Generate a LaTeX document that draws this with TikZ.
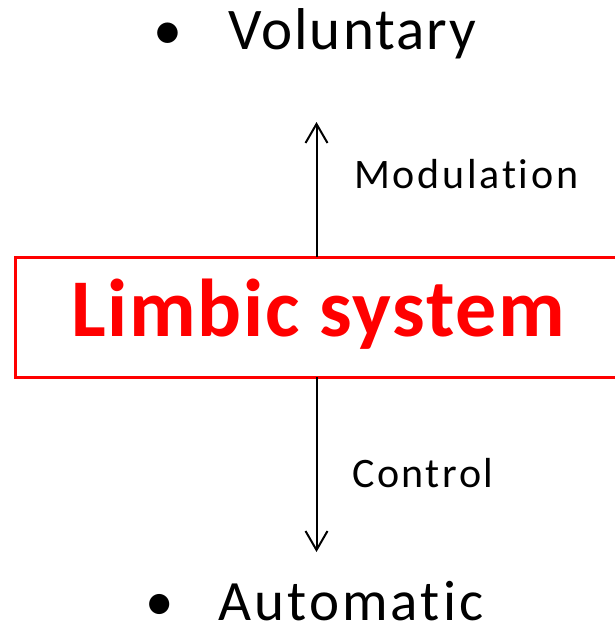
\documentclass[tikz,border=0pt]{standalone}
\usepackage{fontspec}
\setmainfont{Carlito}[Ligatures=NoCommon]
\usetikzlibrary{arrows.meta}
\begin{document}
\begin{tikzpicture}[x=1pt,y=-1pt,
  big/.style={anchor=base west,inner sep=0pt,text depth=0pt,font=\fontsize{58}{60}\selectfont},
  small/.style={anchor=base west,inner sep=0pt,font=\fontsize{42}{44}\selectfont\addfontfeatures{LetterSpace=6.5}},
  arr/.style={line width=2pt,-{Straight Barb[length=19pt,width=22pt,line width=2pt]}}]
\useasboundingbox (0,0) rectangle (615,626);
\node[big] (vb) at (153,50) {•};
\node[big,font=\fontsize{59}{60}\selectfont\addfontfeatures{LetterSpace=3.5}] (vol) at (228,50) {Voluntary};
\node[big,font=\fontsize{57}{60}\selectfont] (ab) at (145,620) {•};
\node[big,font=\fontsize{57}{60}\selectfont\addfontfeatures{LetterSpace=5.5}] (aut) at (218,620) {Automatic};
\draw[red,line width=3pt] (630,257) -- (15,257) -- (15,377) -- (630,377);
\coordinate (boxtop) at (316.5,257);
\coordinate (boxbot) at (316.5,377);
\node[anchor=base,inner sep=0pt,text=red,font=\fontsize{82}{86}\bfseries\selectfont\addfontfeatures{LetterSpace=2}] (lim) at (318,336) {Limbic system};
\coordinate (up) at (316.5,122);
\coordinate (dn) at (316.5,552);
\draw[arr] (boxtop) -- (up);
\draw[arr] (boxbot) -- (dn);
\node[small] (mod) at (354,188) {Modulation};
\node[small,font=\fontsize{42}{44}\selectfont\addfontfeatures{LetterSpace=6}] (con) at (352,487) {Control};
\end{tikzpicture}
\end{document}
